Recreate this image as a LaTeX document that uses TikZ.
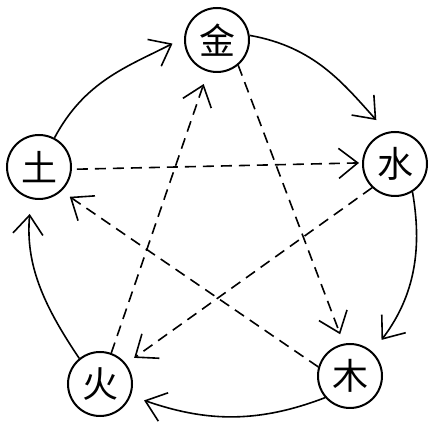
\documentclass[tikz,border=0pt]{standalone}
\usepackage{fontspec}
\newfontfamily\cjk{Noto Sans CJK SC}
\usetikzlibrary{arrows.meta}
\begin{document}
\begin{tikzpicture}[x=1pt,y=1pt,
  elem/.style={circle,draw,line width=2pt,minimum size=64pt,inner sep=0pt,font=\cjk\fontsize{36}{36}\selectfont},
  flow/.style={line width=1.6pt,-{Straight Barb[length=19pt,width=30pt]}},
  ctrl/.style={flow,dash pattern=on 11pt off 7pt}]
\useasboundingbox (0,0) rectangle (429,426);
\node[elem] (jin)  at (217,386) {金};
\node[elem] (shui) at (395,262) {水};
\node[elem] (mu)   at (350,50)  {木};
\node[elem] (huo)  at (100,42)  {火};
\node[elem] (tu)   at (39,259)  {土};
% generating cycle
\draw[flow,shorten >=13pt] (tu.62) to[out=62,in=207] (jin.176);
\draw[flow,shorten >=16pt] (jin.8) to[out=-10,in=132] (shui.104);
\draw[flow,shorten >=15pt] (shui.-58) to[out=-80,in=53] (mu.47);
\draw[flow,shorten >=14pt] (mu.221) to[out=201,in=-19] (huo.-21);
\draw[flow,shorten >=15pt] (huo.129) to[out=124,in=265] (tu.256);
% overcoming star
\draw[ctrl,shorten <=5pt,shorten >=3pt] (tu.-4) -- (shui.178);
\draw[ctrl,shorten >=10pt] (shui.226) -- (huo.38);
\draw[ctrl,shorten >=13pt] (huo.70) -- (jin.254);
\draw[ctrl,shorten >=10pt] (jin.-50) -- (mu.101);
\draw[ctrl,shorten >=10pt] (mu.164) -- (tu.-47);
\end{tikzpicture}
\end{document}
